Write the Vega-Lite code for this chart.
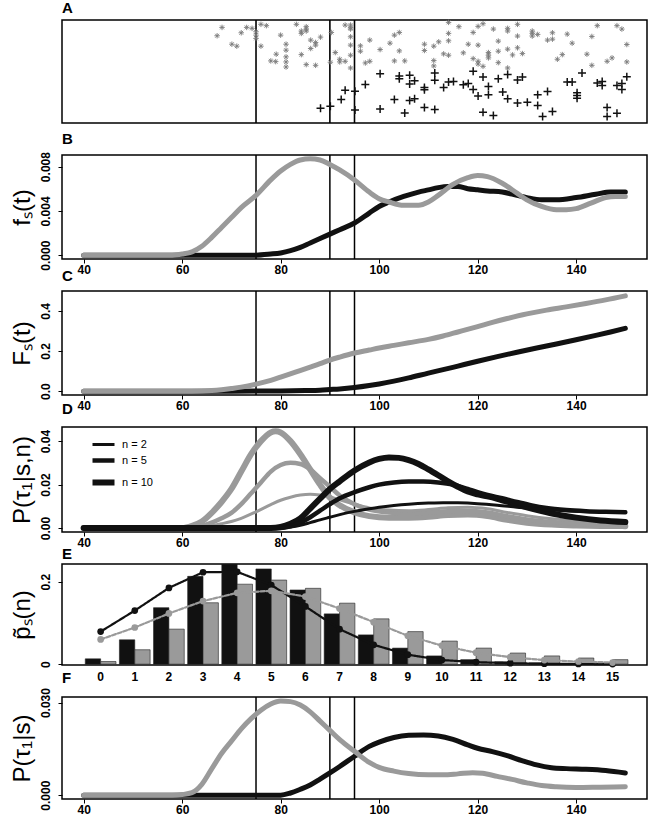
{
"$schema":"https://vega.github.io/schema/vega-lite/v6.json",
"background":"white",
"padding":{"left":9,"top":0,"right":2,"bottom":0},
"bounds":"flush",
"spacing":32,
"resolve":{"scale":{"color":"independent","shape":"independent","size":"independent","strokeWidth":"independent","strokeDash":"independent"},"legend":{"strokeWidth":"independent","color":"independent","shape":"independent","size":"independent","strokeDash":"independent"}},
"config":{
"view":{"stroke":"black","strokeWidth":1.5},
"axis":{"labelFont":"Liberation Sans Narrow, Liberation Sans","labelFontWeight":"bold","labelFontSize":12,"labelColor":"black","tickColor":"black","tickSize":4,"tickWidth":1,"domain":false,"grid":false,"titleFont":"Liberation Sans","titleFontWeight":"normal","titleFontSize":24,"titleColor":"black","labelOverlap":false,"labelFlush":false,"labelPadding":1},
"axisY":{"labelAngle":270,"labelAlign":"center","labelBaseline":"bottom","titlePadding":5,"labelPadding":6},
"title":{"anchor":"start","frame":"group","fontSize":15,"font":"Liberation Sans","fontWeight":"bold","offset":2,"color":"black"},
"line":{"strokeCap":"round","interpolate":"monotone"}
},
"datasets":{
"vl":[{"t":75},{"t":90},{"t":95}],
"D":[
{"s":"gray","n":"n = 10","t":40,"y":0},{"s":"gray","n":"n = 10","t":60,"y":0},{"s":"gray","n":"n = 10","t":62,"y":0.001},{"s":"gray","n":"n = 10","t":64,"y":0.003},{"s":"gray","n":"n = 10","t":66,"y":0.007},{"s":"gray","n":"n = 10","t":68,"y":0.012},{"s":"gray","n":"n = 10","t":70,"y":0.018},{"s":"gray","n":"n = 10","t":72,"y":0.026},{"s":"gray","n":"n = 10","t":74,"y":0.034},{"s":"gray","n":"n = 10","t":76,"y":0.04},{"s":"gray","n":"n = 10","t":78,"y":0.044},{"s":"gray","n":"n = 10","t":79,"y":0.0445},{"s":"gray","n":"n = 10","t":80,"y":0.044},{"s":"gray","n":"n = 10","t":82,"y":0.04},{"s":"gray","n":"n = 10","t":84,"y":0.034},{"s":"gray","n":"n = 10","t":86,"y":0.027},{"s":"gray","n":"n = 10","t":88,"y":0.02},{"s":"gray","n":"n = 10","t":90,"y":0.014},{"s":"gray","n":"n = 10","t":92,"y":0.0105},{"s":"gray","n":"n = 10","t":95,"y":0.0072},{"s":"gray","n":"n = 10","t":98,"y":0.0055},{"s":"gray","n":"n = 10","t":102,"y":0.0048},{"s":"gray","n":"n = 10","t":106,"y":0.0048},{"s":"gray","n":"n = 10","t":110,"y":0.0052},{"s":"gray","n":"n = 10","t":114,"y":0.006},{"s":"gray","n":"n = 10","t":118,"y":0.0062},{"s":"gray","n":"n = 10","t":122,"y":0.0055},{"s":"gray","n":"n = 10","t":126,"y":0.0038},{"s":"gray","n":"n = 10","t":130,"y":0.0025},{"s":"gray","n":"n = 10","t":135,"y":0.0016},{"s":"gray","n":"n = 10","t":140,"y":0.0012},{"s":"gray","n":"n = 10","t":145,"y":0.001},{"s":"gray","n":"n = 10","t":150,"y":0.0009},
{"s":"gray","n":"n = 5","t":40,"y":0},{"s":"gray","n":"n = 5","t":62,"y":0},{"s":"gray","n":"n = 5","t":64,"y":0.001},{"s":"gray","n":"n = 5","t":66,"y":0.0025},{"s":"gray","n":"n = 5","t":68,"y":0.0045},{"s":"gray","n":"n = 5","t":70,"y":0.007},{"s":"gray","n":"n = 5","t":72,"y":0.011},{"s":"gray","n":"n = 5","t":74,"y":0.016},{"s":"gray","n":"n = 5","t":76,"y":0.021},{"s":"gray","n":"n = 5","t":78,"y":0.026},{"s":"gray","n":"n = 5","t":80,"y":0.029},{"s":"gray","n":"n = 5","t":82,"y":0.03},{"s":"gray","n":"n = 5","t":84,"y":0.0295},{"s":"gray","n":"n = 5","t":86,"y":0.027},{"s":"gray","n":"n = 5","t":88,"y":0.023},{"s":"gray","n":"n = 5","t":90,"y":0.019},{"s":"gray","n":"n = 5","t":92,"y":0.015},{"s":"gray","n":"n = 5","t":95,"y":0.011},{"s":"gray","n":"n = 5","t":98,"y":0.0085},{"s":"gray","n":"n = 5","t":102,"y":0.0072},{"s":"gray","n":"n = 5","t":106,"y":0.0068},{"s":"gray","n":"n = 5","t":110,"y":0.0072},{"s":"gray","n":"n = 5","t":114,"y":0.0078},{"s":"gray","n":"n = 5","t":118,"y":0.008},{"s":"gray","n":"n = 5","t":122,"y":0.0072},{"s":"gray","n":"n = 5","t":126,"y":0.0055},{"s":"gray","n":"n = 5","t":130,"y":0.004},{"s":"gray","n":"n = 5","t":135,"y":0.0028},{"s":"gray","n":"n = 5","t":140,"y":0.0021},{"s":"gray","n":"n = 5","t":145,"y":0.0018},{"s":"gray","n":"n = 5","t":150,"y":0.0016},
{"s":"gray","n":"n = 2","t":40,"y":0},{"s":"gray","n":"n = 2","t":62,"y":0},{"s":"gray","n":"n = 2","t":65,"y":0.0008},{"s":"gray","n":"n = 2","t":68,"y":0.002},{"s":"gray","n":"n = 2","t":70,"y":0.003},{"s":"gray","n":"n = 2","t":72,"y":0.0045},{"s":"gray","n":"n = 2","t":75,"y":0.0075},{"s":"gray","n":"n = 2","t":78,"y":0.0108},{"s":"gray","n":"n = 2","t":80,"y":0.0128},{"s":"gray","n":"n = 2","t":82,"y":0.0142},{"s":"gray","n":"n = 2","t":84,"y":0.0152},{"s":"gray","n":"n = 2","t":86,"y":0.0156},{"s":"gray","n":"n = 2","t":88,"y":0.0152},{"s":"gray","n":"n = 2","t":90,"y":0.0143},{"s":"gray","n":"n = 2","t":92,"y":0.013},{"s":"gray","n":"n = 2","t":95,"y":0.011},{"s":"gray","n":"n = 2","t":98,"y":0.0093},{"s":"gray","n":"n = 2","t":102,"y":0.0083},{"s":"gray","n":"n = 2","t":106,"y":0.008},{"s":"gray","n":"n = 2","t":110,"y":0.0085},{"s":"gray","n":"n = 2","t":114,"y":0.0093},{"s":"gray","n":"n = 2","t":118,"y":0.0096},{"s":"gray","n":"n = 2","t":122,"y":0.0089},{"s":"gray","n":"n = 2","t":126,"y":0.0072},{"s":"gray","n":"n = 2","t":130,"y":0.0057},{"s":"gray","n":"n = 2","t":135,"y":0.0043},{"s":"gray","n":"n = 2","t":140,"y":0.0034},{"s":"gray","n":"n = 2","t":145,"y":0.0029},{"s":"gray","n":"n = 2","t":150,"y":0.0027},
{"s":"black","n":"n = 10","t":40,"y":0},{"s":"black","n":"n = 10","t":78,"y":0},{"s":"black","n":"n = 10","t":80,"y":0.0005},{"s":"black","n":"n = 10","t":82,"y":0.002},{"s":"black","n":"n = 10","t":84,"y":0.0045},{"s":"black","n":"n = 10","t":86,"y":0.009},{"s":"black","n":"n = 10","t":88,"y":0.0135},{"s":"black","n":"n = 10","t":90,"y":0.018},{"s":"black","n":"n = 10","t":92,"y":0.0215},{"s":"black","n":"n = 10","t":95,"y":0.0265},{"s":"black","n":"n = 10","t":98,"y":0.0302},{"s":"black","n":"n = 10","t":100,"y":0.0318},{"s":"black","n":"n = 10","t":102,"y":0.0325},{"s":"black","n":"n = 10","t":104,"y":0.0323},{"s":"black","n":"n = 10","t":106,"y":0.0313},{"s":"black","n":"n = 10","t":108,"y":0.0295},{"s":"black","n":"n = 10","t":110,"y":0.027},{"s":"black","n":"n = 10","t":112,"y":0.0243},{"s":"black","n":"n = 10","t":114,"y":0.0215},{"s":"black","n":"n = 10","t":116,"y":0.019},{"s":"black","n":"n = 10","t":118,"y":0.0168},{"s":"black","n":"n = 10","t":120,"y":0.0155},{"s":"black","n":"n = 10","t":122,"y":0.0146},{"s":"black","n":"n = 10","t":124,"y":0.0135},{"s":"black","n":"n = 10","t":127,"y":0.0115},{"s":"black","n":"n = 10","t":130,"y":0.0095},{"s":"black","n":"n = 10","t":133,"y":0.0078},{"s":"black","n":"n = 10","t":136,"y":0.0063},{"s":"black","n":"n = 10","t":140,"y":0.0048},{"s":"black","n":"n = 10","t":145,"y":0.0035},{"s":"black","n":"n = 10","t":150,"y":0.0028},
{"s":"black","n":"n = 5","t":40,"y":0},{"s":"black","n":"n = 5","t":80,"y":0},{"s":"black","n":"n = 5","t":82,"y":0.0008},{"s":"black","n":"n = 5","t":84,"y":0.0025},{"s":"black","n":"n = 5","t":86,"y":0.005},{"s":"black","n":"n = 5","t":88,"y":0.008},{"s":"black","n":"n = 5","t":90,"y":0.011},{"s":"black","n":"n = 5","t":92,"y":0.0137},{"s":"black","n":"n = 5","t":95,"y":0.0165},{"s":"black","n":"n = 5","t":98,"y":0.0188},{"s":"black","n":"n = 5","t":100,"y":0.02},{"s":"black","n":"n = 5","t":103,"y":0.021},{"s":"black","n":"n = 5","t":106,"y":0.0214},{"s":"black","n":"n = 5","t":109,"y":0.0214},{"s":"black","n":"n = 5","t":112,"y":0.021},{"s":"black","n":"n = 5","t":115,"y":0.02},{"s":"black","n":"n = 5","t":118,"y":0.018},{"s":"black","n":"n = 5","t":120,"y":0.0165},{"s":"black","n":"n = 5","t":122,"y":0.0152},{"s":"black","n":"n = 5","t":125,"y":0.0137},{"s":"black","n":"n = 5","t":128,"y":0.012},{"s":"black","n":"n = 5","t":131,"y":0.0104},{"s":"black","n":"n = 5","t":134,"y":0.0092},{"s":"black","n":"n = 5","t":138,"y":0.0083},{"s":"black","n":"n = 5","t":142,"y":0.0078},{"s":"black","n":"n = 5","t":146,"y":0.0075},{"s":"black","n":"n = 5","t":150,"y":0.0073},
{"s":"black","n":"n = 2","t":40,"y":0},{"s":"black","n":"n = 2","t":80,"y":0},{"s":"black","n":"n = 2","t":82,"y":0.0005},{"s":"black","n":"n = 2","t":84,"y":0.0013},{"s":"black","n":"n = 2","t":86,"y":0.0025},{"s":"black","n":"n = 2","t":88,"y":0.0038},{"s":"black","n":"n = 2","t":90,"y":0.005},{"s":"black","n":"n = 2","t":92,"y":0.0062},{"s":"black","n":"n = 2","t":95,"y":0.0077},{"s":"black","n":"n = 2","t":98,"y":0.0089},{"s":"black","n":"n = 2","t":100,"y":0.0096},{"s":"black","n":"n = 2","t":103,"y":0.0104},{"s":"black","n":"n = 2","t":106,"y":0.011},{"s":"black","n":"n = 2","t":110,"y":0.0115},{"s":"black","n":"n = 2","t":113,"y":0.0117},{"s":"black","n":"n = 2","t":116,"y":0.0116},{"s":"black","n":"n = 2","t":120,"y":0.0112},{"s":"black","n":"n = 2","t":124,"y":0.0105},{"s":"black","n":"n = 2","t":128,"y":0.0096},{"s":"black","n":"n = 2","t":132,"y":0.0088},{"s":"black","n":"n = 2","t":136,"y":0.0082},{"s":"black","n":"n = 2","t":140,"y":0.0078},{"s":"black","n":"n = 2","t":145,"y":0.0076},{"s":"black","n":"n = 2","t":150,"y":0.0075}
]
},
"vconcat":[
{
"title":"A","width":585,"height":103,
"layer":[
{"data":{"name":"vl"},"mark":{"type":"rule","color":"black","strokeWidth":1.6},"encoding":{"x":{"field":"t","type":"quantitative","scale":{"domain":[35.6,154.4],"nice":false,"zero":false},"axis":null}}},
{"data":{"values":[
{"t":68.1,"y":0.928,"k":"a"},{"t":67.1,"y":0.847,"k":"a"},{"t":72.0,"y":0.876,"k":"a"},{"t":73.1,"y":0.928,"k":"a"},{"t":74.2,"y":0.919,"k":"a"},{"t":70.1,"y":0.765,"k":"a"},{"t":71.1,"y":0.746,"k":"a"},{"t":75.0,"y":0.886,"k":"a"},{"t":75.0,"y":0.853,"k":"a"},{"t":75.0,"y":0.821,"k":"a"},{"t":76.0,"y":0.958,"k":"a"},{"t":77.1,"y":0.945,"k":"a"},{"t":76.0,"y":0.746,"k":"a"},{"t":80.0,"y":0.853,"k":"a"},{"t":81.1,"y":0.765,"k":"a"},{"t":81.1,"y":0.707,"k":"a"},{"t":79.1,"y":0.668,"k":"a"},{"t":78.0,"y":0.603,"k":"a"},{"t":79.0,"y":0.596,"k":"a"},{"t":81.1,"y":0.642,"k":"a"},{"t":81.1,"y":0.593,"k":"a"},{"t":81.1,"y":0.544,"k":"a"},{"t":83.2,"y":0.958,"k":"a"},{"t":84.2,"y":0.893,"k":"a"},{"t":84.2,"y":0.87,"k":"a"},{"t":85.2,"y":0.935,"k":"a"},{"t":85.2,"y":0.912,"k":"a"},{"t":85.2,"y":0.893,"k":"a"},{"t":86.1,"y":0.805,"k":"a"},{"t":87.1,"y":0.782,"k":"a"},{"t":87.1,"y":0.756,"k":"a"},{"t":88.1,"y":0.834,"k":"a"},{"t":86.1,"y":0.723,"k":"a"},{"t":84.2,"y":0.664,"k":"a"},{"t":85.2,"y":0.567,"k":"a"},{"t":87.1,"y":0.56,"k":"a"},{"t":90.3,"y":0.879,"k":"a"},{"t":91.1,"y":0.684,"k":"a"},{"t":90.1,"y":0.59,"k":"a"},{"t":92.0,"y":0.619,"k":"a"},{"t":92.0,"y":0.593,"k":"a"},{"t":93.1,"y":0.599,"k":"a"},{"t":93.1,"y":0.951,"k":"a"},{"t":94.2,"y":0.951,"k":"a"},{"t":94.2,"y":0.925,"k":"a"},{"t":94.2,"y":0.912,"k":"a"},{"t":94.2,"y":0.837,"k":"a"},{"t":94.2,"y":0.756,"k":"a"},{"t":94.2,"y":0.658,"k":"a"},{"t":94.2,"y":0.534,"k":"a"},{"t":96.2,"y":0.749,"k":"a"},{"t":96.2,"y":0.697,"k":"a"},{"t":98.1,"y":0.805,"k":"a"},{"t":97.2,"y":0.583,"k":"a"},{"t":98.1,"y":0.599,"k":"a"},{"t":100.2,"y":0.713,"k":"a"},{"t":102.2,"y":0.775,"k":"a"},{"t":103.1,"y":0.853,"k":"a"},{"t":104.1,"y":0.879,"k":"a"},{"t":103.1,"y":0.603,"k":"a"},{"t":105.2,"y":0.603,"k":"a"},{"t":104.1,"y":0.7,"k":"a"},{"t":109.2,"y":0.765,"k":"a"},{"t":109.2,"y":0.704,"k":"a"},{"t":111.1,"y":0.746,"k":"a"},{"t":112.1,"y":0.788,"k":"a"},{"t":111.1,"y":0.606,"k":"a"},{"t":111.1,"y":0.554,"k":"a"},{"t":113.1,"y":0.671,"k":"a"},{"t":114.1,"y":0.658,"k":"a"},{"t":114.1,"y":0.977,"k":"a"},{"t":114.1,"y":0.87,"k":"a"},{"t":114.1,"y":0.798,"k":"a"},{"t":116.2,"y":0.935,"k":"a"},{"t":117.1,"y":0.681,"k":"a"},{"t":118.1,"y":0.765,"k":"a"},{"t":119.1,"y":0.879,"k":"a"},{"t":120.1,"y":0.938,"k":"a"},{"t":121.1,"y":0.964,"k":"a"},{"t":120.1,"y":0.756,"k":"a"},{"t":119.1,"y":0.625,"k":"a"},{"t":120.1,"y":0.599,"k":"a"},{"t":120.1,"y":0.573,"k":"a"},{"t":121.1,"y":0.55,"k":"a"},{"t":122.2,"y":0.684,"k":"a"},{"t":122.2,"y":0.658,"k":"a"},{"t":122.2,"y":0.632,"k":"a"},{"t":123.2,"y":0.912,"k":"a"},{"t":124.2,"y":0.795,"k":"a"},{"t":124.2,"y":0.697,"k":"a"},{"t":124.2,"y":0.586,"k":"a"},{"t":126.1,"y":0.919,"k":"a"},{"t":126.1,"y":0.893,"k":"a"},{"t":126.1,"y":0.717,"k":"a"},{"t":126.1,"y":0.534,"k":"a"},{"t":128.1,"y":0.958,"k":"a"},{"t":128.1,"y":0.844,"k":"a"},{"t":128.1,"y":0.73,"k":"a"},{"t":127.1,"y":0.661,"k":"a"},{"t":129.1,"y":0.674,"k":"a"},{"t":131.1,"y":0.893,"k":"a"},{"t":131.1,"y":0.87,"k":"a"},{"t":131.1,"y":0.844,"k":"a"},{"t":132.2,"y":0.86,"k":"a"},{"t":134.2,"y":0.805,"k":"a"},{"t":135.2,"y":0.876,"k":"a"},{"t":135.2,"y":0.814,"k":"a"},{"t":137.2,"y":0.664,"k":"a"},{"t":136.2,"y":0.619,"k":"a"},{"t":138.2,"y":0.863,"k":"a"},{"t":139.2,"y":0.775,"k":"a"},{"t":142.2,"y":0.668,"k":"a"},{"t":143.2,"y":0.84,"k":"a"},{"t":143.2,"y":0.56,"k":"a"},{"t":144.3,"y":0.945,"k":"a"},{"t":146.3,"y":0.599,"k":"a"},{"t":147.3,"y":0.632,"k":"a"},{"t":148.3,"y":0.945,"k":"a"},{"t":149.3,"y":0.912,"k":"a"},{"t":150.3,"y":0.762,"k":"a"},{"t":150.3,"y":0.593,"k":"a"},
{"t":88.1,"y":0.143,"k":"p"},{"t":90.1,"y":0.163,"k":"p"},{"t":92.3,"y":0.228,"k":"p"},{"t":93.1,"y":0.319,"k":"p"},{"t":95.1,"y":0.309,"k":"p"},{"t":95.1,"y":0.127,"k":"p"},{"t":97.2,"y":0.375,"k":"p"},{"t":100.2,"y":0.479,"k":"p"},{"t":100.2,"y":0.137,"k":"p"},{"t":103.1,"y":0.228,"k":"p"},{"t":104.1,"y":0.456,"k":"p"},{"t":104.1,"y":0.43,"k":"p"},{"t":105.2,"y":0.098,"k":"p"},{"t":106.2,"y":0.463,"k":"p"},{"t":106.2,"y":0.378,"k":"p"},{"t":107.2,"y":0.41,"k":"p"},{"t":106.2,"y":0.218,"k":"p"},{"t":107.2,"y":0.235,"k":"p"},{"t":109.2,"y":0.345,"k":"p"},{"t":109.2,"y":0.322,"k":"p"},{"t":109.2,"y":0.15,"k":"p"},{"t":111.3,"y":0.13,"k":"p"},{"t":111.3,"y":0.485,"k":"p"},{"t":111.3,"y":0.414,"k":"p"},{"t":113.1,"y":0.345,"k":"p"},{"t":114.1,"y":0.397,"k":"p"},{"t":115.1,"y":0.404,"k":"p"},{"t":117.1,"y":0.371,"k":"p"},{"t":118.1,"y":0.384,"k":"p"},{"t":119.1,"y":0.326,"k":"p"},{"t":119.1,"y":0.502,"k":"p"},{"t":120.1,"y":0.261,"k":"p"},{"t":121.1,"y":0.446,"k":"p"},{"t":122.2,"y":0.355,"k":"p"},{"t":122.2,"y":0.274,"k":"p"},{"t":121.1,"y":0.104,"k":"p"},{"t":123.2,"y":0.072,"k":"p"},{"t":124.2,"y":0.43,"k":"p"},{"t":125.1,"y":0.3,"k":"p"},{"t":126.1,"y":0.472,"k":"p"},{"t":126.1,"y":0.235,"k":"p"},{"t":128.1,"y":0.195,"k":"p"},{"t":128.1,"y":0.417,"k":"p"},{"t":129.1,"y":0.446,"k":"p"},{"t":130.1,"y":0.202,"k":"p"},{"t":132.2,"y":0.274,"k":"p"},{"t":132.2,"y":0.169,"k":"p"},{"t":133.2,"y":0.062,"k":"p"},{"t":134.2,"y":0.306,"k":"p"},{"t":135.2,"y":0.111,"k":"p"},{"t":138.2,"y":0.397,"k":"p"},{"t":139.2,"y":0.397,"k":"p"},{"t":140.2,"y":0.293,"k":"p"},{"t":140.2,"y":0.267,"k":"p"},{"t":140.2,"y":0.241,"k":"p"},{"t":141.2,"y":0.485,"k":"p"},{"t":144.3,"y":0.388,"k":"p"},{"t":145.3,"y":0.404,"k":"p"},{"t":145.3,"y":0.365,"k":"p"},{"t":146.3,"y":0.15,"k":"p"},{"t":146.3,"y":0.062,"k":"p"},{"t":148.3,"y":0.365,"k":"p"},{"t":148.3,"y":0.094,"k":"p"},{"t":149.3,"y":0.384,"k":"p"},{"t":149.3,"y":0.326,"k":"p"},{"t":150.3,"y":0.45,"k":"p"}
]},
"mark":{"type":"point","filled":false,"opacity":1,"strokeWidth":1},
"encoding":{
"x":{"field":"t","type":"quantitative","scale":{"domain":[35.6,154.4],"nice":false,"zero":false},"axis":null},
"y":{"field":"y","type":"quantitative","scale":{"domain":[0,1],"nice":false,"zero":false},"axis":null},
"shape":{"field":"k","type":"nominal","scale":{"domain":["a","p"],"range":["M-1,0L1,0M0,-1L0,1M-0.7,-0.7L0.7,0.7M-0.7,0.7L0.7,-0.7","M-1,0L1,0M0,-1L0,1"]},"legend":null},
"color":{"field":"k","type":"nominal","scale":{"domain":["a","p"],"range":["#7a7a7a","#111111"]},"legend":null},
"size":{"field":"k","type":"nominal","scale":{"domain":["a","p"],"range":[30,64]},"legend":null},
"strokeWidth":{"field":"k","type":"nominal","scale":{"domain":["a","p"],"range":[0.9,1.5]},"legend":null}
}}
]
},
{
"title":"B","width":585,"height":104,
"layer":[
{"data":{"name":"vl"},"mark":{"type":"rule","color":"black","strokeWidth":1.5},"encoding":{"x":{"field":"t","type":"quantitative","scale":{"domain":[35.6,154.4],"nice":false,"zero":false},"axis":{"title":null,"values":[40,60,80,100,120,140]}}}},
{"data":{"values":[{"t":40,"y":0},{"t":60,"y":0},{"t":70,"y":0},{"t":75,"y":0},{"t":78,"y":0.0001},{"t":80,"y":0.0002},{"t":82,"y":0.0004},{"t":84,"y":0.0007},{"t":86,"y":0.0011},{"t":88,"y":0.0015},{"t":90,"y":0.0019},{"t":92,"y":0.0023},{"t":95,"y":0.0029},{"t":98,"y":0.0038},{"t":100,"y":0.0044},{"t":102,"y":0.0048},{"t":105,"y":0.0053},{"t":108,"y":0.0057},{"t":110,"y":0.0059},{"t":112,"y":0.0061},{"t":114,"y":0.0062},{"t":116,"y":0.0062},{"t":118,"y":0.006},{"t":120,"y":0.0059},{"t":122,"y":0.0058},{"t":125,"y":0.0057},{"t":128,"y":0.0054},{"t":130,"y":0.0052},{"t":133,"y":0.005},{"t":136,"y":0.005},{"t":140,"y":0.0052},{"t":144,"y":0.0055},{"t":147,"y":0.0057},{"t":150,"y":0.0057}]},
"mark":{"type":"line","color":"#111111","strokeWidth":5},
"encoding":{"x":{"field":"t","type":"quantitative"},"y":{"field":"y","type":"quantitative","scale":{"domain":[-0.00035,0.00905],"nice":false,"zero":false},"axis":{"title":"fₛ(t)","values":[0,0.002,0.004,0.006,0.008],"format":".3f","labelExpr":"datum.value==0.002||datum.value==0.006?'':datum.label"}}}},
{"data":{"values":[{"t":40,"y":0},{"t":50,"y":0},{"t":58,"y":0},{"t":60,"y":0.0001},{"t":62,"y":0.0003},{"t":64,"y":0.0008},{"t":66,"y":0.0016},{"t":68,"y":0.0025},{"t":70,"y":0.0034},{"t":72,"y":0.0043},{"t":75,"y":0.0054},{"t":78,"y":0.0068},{"t":80,"y":0.0076},{"t":82,"y":0.0082},{"t":84,"y":0.0086},{"t":86,"y":0.0087},{"t":88,"y":0.0086},{"t":90,"y":0.0082},{"t":92,"y":0.0077},{"t":95,"y":0.0068},{"t":98,"y":0.0057},{"t":100,"y":0.0051},{"t":102,"y":0.0048},{"t":105,"y":0.0045},{"t":108,"y":0.0045},{"t":110,"y":0.0048},{"t":112,"y":0.0054},{"t":115,"y":0.0064},{"t":118,"y":0.007},{"t":120,"y":0.0072},{"t":122,"y":0.0071},{"t":125,"y":0.0065},{"t":128,"y":0.0056},{"t":130,"y":0.005},{"t":133,"y":0.0044},{"t":136,"y":0.0041},{"t":138,"y":0.0041},{"t":140,"y":0.0042},{"t":143,"y":0.0047},{"t":146,"y":0.0052},{"t":148,"y":0.0053},{"t":150,"y":0.0053}]},
"mark":{"type":"line","color":"#9a9a9a","strokeWidth":5},
"encoding":{"x":{"field":"t","type":"quantitative"},"y":{"field":"y","type":"quantitative"}}}
]
},
{
"title":"C","width":585,"height":104,
"layer":[
{"data":{"name":"vl"},"mark":{"type":"rule","color":"black","strokeWidth":1.5},"encoding":{"x":{"field":"t","type":"quantitative","scale":{"domain":[35.6,154.4],"nice":false,"zero":false},"axis":{"title":null,"values":[40,60,80,100,120,140]}}}},
{"data":{"values":[{"t":40,"y":0},{"t":70,"y":0},{"t":80,"y":0.001},{"t":85,"y":0.003},{"t":88,"y":0.005},{"t":90,"y":0.008},{"t":92,"y":0.011},{"t":95,"y":0.018},{"t":98,"y":0.028},{"t":100,"y":0.036},{"t":103,"y":0.05},{"t":106,"y":0.066},{"t":110,"y":0.09},{"t":113,"y":0.107},{"t":116,"y":0.125},{"t":120,"y":0.149},{"t":124,"y":0.172},{"t":128,"y":0.194},{"t":132,"y":0.215},{"t":136,"y":0.235},{"t":140,"y":0.256},{"t":144,"y":0.278},{"t":147,"y":0.295},{"t":150,"y":0.313}]},
"mark":{"type":"line","color":"#111111","strokeWidth":5},
"encoding":{"x":{"field":"t","type":"quantitative"},"y":{"field":"y","type":"quantitative","scale":{"domain":[-0.0192,0.4992],"nice":false,"zero":false},"axis":{"title":"Fₛ(t)","values":[0,0.1,0.2,0.3,0.4],"format":".1f","labelExpr":"datum.value==0.1||datum.value==0.3?'':datum.label"}}}},
{"data":{"values":[{"t":40,"y":0},{"t":60,"y":0},{"t":64,"y":0.001},{"t":66,"y":0.003},{"t":68,"y":0.007},{"t":70,"y":0.013},{"t":72,"y":0.02},{"t":75,"y":0.035},{"t":78,"y":0.054},{"t":80,"y":0.07},{"t":83,"y":0.095},{"t":86,"y":0.12},{"t":88,"y":0.137},{"t":90,"y":0.155},{"t":92,"y":0.17},{"t":95,"y":0.19},{"t":98,"y":0.205},{"t":100,"y":0.215},{"t":103,"y":0.228},{"t":106,"y":0.241},{"t":110,"y":0.258},{"t":113,"y":0.275},{"t":116,"y":0.295},{"t":120,"y":0.322},{"t":123,"y":0.343},{"t":126,"y":0.362},{"t":130,"y":0.385},{"t":134,"y":0.404},{"t":138,"y":0.42},{"t":142,"y":0.437},{"t":146,"y":0.455},{"t":150,"y":0.475}]},
"mark":{"type":"line","color":"#9a9a9a","strokeWidth":5},
"encoding":{"x":{"field":"t","type":"quantitative"},"y":{"field":"y","type":"quantitative"}}}
]
},
{
"title":"D","width":585,"height":105,
"layer":[
{"data":{"name":"vl"},"mark":{"type":"rule","color":"black","strokeWidth":1.5},"encoding":{"x":{"field":"t","type":"quantitative","scale":{"domain":[35.6,154.4],"nice":false,"zero":false},"axis":{"title":null,"values":[40,60,80,100,120,140]}}}},
{"data":{"name":"D"},"transform":[{"filter":"datum.s=='gray'"}],
"mark":{"type":"line","color":"#9a9a9a"},
"encoding":{"x":{"field":"t","type":"quantitative"},"y":{"field":"y","type":"quantitative","scale":{"domain":[-0.0018,0.0465],"nice":false,"zero":false},"axis":{"title":"P(τ₁|s,n)","values":[0,0.01,0.02,0.03,0.04],"format":".2f","labelExpr":"datum.value==0.01||datum.value==0.03?'':datum.label"}},
"strokeWidth":{"field":"n","type":"nominal","scale":{"domain":["n = 2","n = 5","n = 10"],"range":[3,6,9]},"legend":{"title":null,"orient":"none","legendX":36,"legendY":12,"symbolType":"M-11,0L11,0","symbolStrokeColor":"black","symbolSize":4,"labelFont":"Liberation Sans","labelFontSize":11,"labelColor":"black","rowPadding":0,"labelOffset":13}}}},
{"data":{"name":"D"},"transform":[{"filter":"datum.s=='black'"}],
"mark":{"type":"line","color":"#111111"},
"encoding":{"x":{"field":"t","type":"quantitative"},"y":{"field":"y","type":"quantitative"},
"strokeWidth":{"field":"n","type":"nominal"}}}
]
},
{
"title":"E","width":585,"height":101,
"data":{"values":[
{"n":0,"s":"black","bar":0.013,"pt":0.079},{"n":1,"s":"black","bar":0.059,"pt":0.13},{"n":2,"s":"black","bar":0.137,"pt":0.185},{"n":3,"s":"black","bar":0.213,"pt":0.223},{"n":4,"s":"black","bar":0.243,"pt":0.224},{"n":5,"s":"black","bar":0.231,"pt":0.192},{"n":6,"s":"black","bar":0.18,"pt":0.14},{"n":7,"s":"black","bar":0.122,"pt":0.085},{"n":8,"s":"black","bar":0.071,"pt":0.047},{"n":9,"s":"black","bar":0.039,"pt":0.023},{"n":10,"s":"black","bar":0.02,"pt":0.01},{"n":11,"s":"black","bar":0.011,"pt":0.005},{"n":12,"s":"black","bar":0.006,"pt":0.0024},{"n":13,"s":"black","bar":0.003,"pt":0.001},{"n":14,"s":"black","bar":0.0015,"pt":0.0005},{"n":15,"s":"black","bar":0.001,"pt":0.0002},
{"n":0,"s":"gray","bar":0.0065,"pt":0.06},{"n":1,"s":"gray","bar":0.035,"pt":0.089},{"n":2,"s":"gray","bar":0.085,"pt":0.123},{"n":3,"s":"gray","bar":0.149,"pt":0.153},{"n":4,"s":"gray","bar":0.194,"pt":0.173},{"n":5,"s":"gray","bar":0.204,"pt":0.178},{"n":6,"s":"gray","bar":0.184,"pt":0.164},{"n":7,"s":"gray","bar":0.148,"pt":0.135},{"n":8,"s":"gray","bar":0.11,"pt":0.102},{"n":9,"s":"gray","bar":0.079,"pt":0.069},{"n":10,"s":"gray","bar":0.056,"pt":0.045},{"n":11,"s":"gray","bar":0.039,"pt":0.028},{"n":12,"s":"gray","bar":0.027,"pt":0.017},{"n":13,"s":"gray","bar":0.02,"pt":0.01},{"n":14,"s":"gray","bar":0.015,"pt":0.0065},{"n":15,"s":"gray","bar":0.011,"pt":0.004}
]},
"layer":[
{"mark":{"type":"bar","stroke":"#222222","strokeWidth":0.6,"clip":true},
"encoding":{
"x":{"field":"n","type":"ordinal","scale":{"paddingInner":0.1,"paddingOuter":0.62,"align":0.55},"axis":{"title":null,"ticks":false,"labelAngle":0,"labelPadding":6}},
"xOffset":{"field":"s","type":"nominal","scale":{"domain":["black","gray"],"paddingInner":0,"paddingOuter":0}},
"y":{"field":"bar","type":"quantitative","scale":{"domain":[-0.002,0.243],"nice":false,"zero":false},"axis":{"title":"p̃ₛ(n)","values":[0,0.0667,0.1333,0.2],"labelExpr":"datum.value==0?'0':datum.value==0.2?'0.2':''"}},
"color":{"field":"s","type":"nominal","scale":{"domain":["black","gray"],"range":["#111111","#9a9a9a"]},"legend":null}}},
{"mark":{"type":"line","interpolate":"linear","strokeWidth":2.2},
"encoding":{"x":{"field":"n","type":"ordinal"},"y":{"field":"pt","type":"quantitative"},
"color":{"field":"s","type":"nominal","legend":null},
"strokeDash":{"field":"s","type":"nominal","scale":{"domain":["black","gray"],"range":[[1,0],[4,2]]},"legend":null}}},
{"mark":{"type":"point","filled":true,"opacity":1,"size":45},
"encoding":{"x":{"field":"n","type":"ordinal"},"y":{"field":"pt","type":"quantitative"},
"color":{"field":"s","type":"nominal","legend":null}}}
]
},
{
"title":"F","width":585,"height":102,
"layer":[
{"data":{"name":"vl"},"mark":{"type":"rule","color":"black","strokeWidth":1.5},"encoding":{"x":{"field":"t","type":"quantitative","scale":{"domain":[35.6,154.4],"nice":false,"zero":false},"axis":{"title":null,"values":[40,60,80,100,120,140]}}}},
{"data":{"values":[{"t":40,"y":0},{"t":60,"y":0},{"t":80,"y":0},{"t":82,"y":0.0007},{"t":84,"y":0.0019},{"t":86,"y":0.0033},{"t":88,"y":0.0052},{"t":90,"y":0.0072},{"t":92,"y":0.0093},{"t":95,"y":0.0126},{"t":98,"y":0.0158},{"t":100,"y":0.0172},{"t":103,"y":0.0187},{"t":106,"y":0.0194},{"t":109,"y":0.0195},{"t":112,"y":0.0192},{"t":115,"y":0.0181},{"t":118,"y":0.0163},{"t":120,"y":0.0152},{"t":123,"y":0.0141},{"t":126,"y":0.0128},{"t":129,"y":0.0112},{"t":132,"y":0.0098},{"t":135,"y":0.0089},{"t":138,"y":0.0086},{"t":142,"y":0.0084},{"t":146,"y":0.008},{"t":150,"y":0.0072}]},
"mark":{"type":"line","color":"#111111","strokeWidth":5},
"encoding":{"x":{"field":"t","type":"quantitative"},"y":{"field":"y","type":"quantitative","scale":{"domain":[-0.00124,0.0318],"nice":false,"zero":false},"axis":{"title":"P(τ₁|s)","values":[0,0.005,0.01,0.015,0.02,0.025,0.03],"format":".3f","labelExpr":"datum.value==0||datum.value==0.015||datum.value==0.03?datum.label:''"}}}},
{"data":{"values":[{"t":40,"y":0},{"t":58,"y":0},{"t":60,"y":0.0002},{"t":62,"y":0.0008},{"t":64,"y":0.0035},{"t":66,"y":0.0085},{"t":68,"y":0.0135},{"t":70,"y":0.0175},{"t":72,"y":0.0215},{"t":74,"y":0.0248},{"t":76,"y":0.0275},{"t":78,"y":0.0295},{"t":80,"y":0.0305},{"t":82,"y":0.0303},{"t":84,"y":0.0292},{"t":86,"y":0.027},{"t":88,"y":0.024},{"t":90,"y":0.021},{"t":92,"y":0.018},{"t":95,"y":0.0142},{"t":98,"y":0.0106},{"t":100,"y":0.009},{"t":103,"y":0.0078},{"t":106,"y":0.007},{"t":110,"y":0.0066},{"t":113,"y":0.0066},{"t":116,"y":0.0069},{"t":119,"y":0.0073},{"t":121,"y":0.0071},{"t":124,"y":0.0061},{"t":127,"y":0.0051},{"t":130,"y":0.004},{"t":133,"y":0.0031},{"t":136,"y":0.0027},{"t":140,"y":0.0025},{"t":145,"y":0.0026},{"t":150,"y":0.0027}]},
"mark":{"type":"line","color":"#9a9a9a","strokeWidth":5},
"encoding":{"x":{"field":"t","type":"quantitative"},"y":{"field":"y","type":"quantitative"}}}
]
}
]
}
